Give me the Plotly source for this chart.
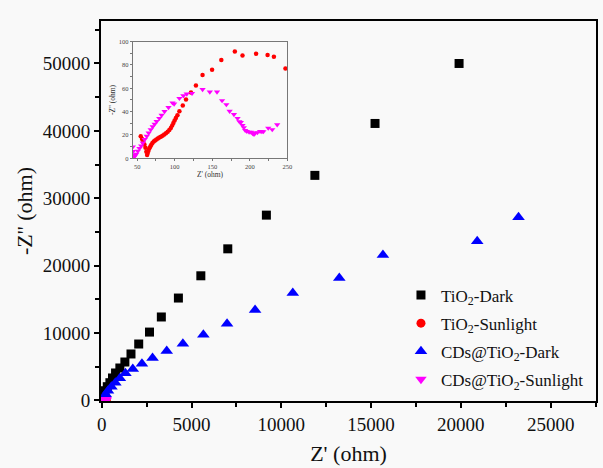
import plotly.graph_objects as go

# ---------------- data ----------------
# TiO2-Dark (main plot)
tio2_dark_x = [12, 35, 90, 180, 310, 455, 600, 770, 1010, 1290, 1630, 2060, 2660, 3320,
               4270, 5520, 7020, 9170, 11870, 15220, 19900]
tio2_dark_y = [250, 560, 960, 1450, 2050, 2640, 3340, 4080, 4820, 5710, 6900, 8380, 10150,
               12390, 15200, 18500, 22500, 27500, 33400, 41100, 50000]

# CDs@TiO2-Dark (main plot)
cds_dark_x = [50, 130, 220, 350, 540, 760, 1010, 1320, 1730, 2240, 2830, 3620, 4520, 5660,
              6980, 8540, 10640, 13230, 15660, 20910, 23210]
cds_dark_y = [150, 475, 920, 1450, 2050, 2640, 3290, 4040, 4670, 5460, 6310, 7340, 8430,
              9760, 11390, 13430, 15950, 18170, 21590, 23620, 27180]

# TiO2-Sunlight (inset + main)
tio2_sun_x = [54.7, 56.5, 58, 59.6, 61, 62.2, 63.2, 64, 65, 66.2, 67.5, 68.8, 70.3, 72, 73.8,
              75.6, 77.5, 79.5, 81.5, 83.7, 86, 88.3, 90.6, 92.8, 94.8, 96.6, 98.2, 99.8,
              101.5, 103.6, 106.2, 110.7, 115, 121.6, 128.2, 137, 149.7, 162, 180, 190.2,
              208.3, 223.6, 232, 247.4]
tio2_sun_y = [18.9, 16.5, 14, 11.9, 9, 5.5, 2.8, 4.5, 6.5, 8.5, 10.2, 11.6, 13, 14.3, 15.3,
              16.2, 17, 17.8, 18.5, 19.3, 20.3, 21.4, 22.8, 24.3, 26, 28, 30.2, 32.3,
              34.5, 36.9, 40.3, 45.2, 50.3, 56.4, 62.4, 71.4, 75.9, 84.2, 91.5, 88.1,
              89.5, 88.4, 87, 76.8]

# CDs@TiO2-Sunlight (inset + main)
cds_sun_x = [44.2, 44.6, 45.2, 46, 47.2, 48.7, 50.8, 53, 55.3, 57.4, 60, 62.7, 65.3, 68, 70.6,
             73.2, 75.9, 79.4, 82.5, 86.4, 91.7, 97, 99.2, 106.2, 111.5, 116, 123, 137,
             146.7, 156.3, 163, 168.7, 173.1, 178.8, 183.6, 186, 188, 190.2, 192, 193.8,
             196, 199, 201.7, 203.8, 205.5, 207, 210, 213.6, 216, 218, 224.5, 229.8, 236.4]
cds_sun_y = [9.8, 6, 3, 1.2, 2.2, 3.6, 6.2, 8.5, 10.7, 13.2, 16.1, 18.9, 21.7, 24.6, 27.1,
             29.3, 31.6, 34.2, 36.9, 40.1, 43.5, 47.5, 46.6, 51.4, 53.6, 55.1, 55.6, 59,
             56.8, 56.8, 49.4, 46, 40.3, 37.5, 34.2, 31.5, 30.8, 28.2, 26.3, 24,
             23.1, 22.5, 22.3, 21.2, 20.5, 21.7, 22, 23.1, 22.9, 22.9, 25.9, 24.6, 28.8]

names = ["TiO<sub>2</sub>-Dark", "TiO<sub>2</sub>-Sunlight",
         "CDs@TiO<sub>2</sub>-Dark", "CDs@TiO<sub>2</sub>-Sunlight"]

x_ticks = [0, 5000, 10000, 15000, 20000, 25000]
y_ticks = [0, 10000, 20000, 30000, 40000, 50000]
inset_x_ticks = [50, 100, 150, 200, 250]
inset_y_ticks = [0, 20, 40, 60, 80, 100]

FONT = "Liberation Serif"
BG = "#f9f9f9"

fig = go.Figure()

fig.add_trace(go.Scatter(x=tio2_dark_x, y=tio2_dark_y, mode="markers", name=names[0],
                         legendgroup="g1",
                         marker=dict(symbol="square", size=9, color="#000000")))
fig.add_trace(go.Scatter(x=tio2_sun_x, y=tio2_sun_y, mode="markers", name=names[1],
                         legendgroup="g2",
                         marker=dict(symbol="circle", size=9, color="#ff0000")))
fig.add_trace(go.Scatter(x=cds_dark_x, y=cds_dark_y, mode="markers", name=names[2],
                         legendgroup="g3",
                         marker=dict(symbol="triangle-up", size=11, color="#0000ff")))
fig.add_trace(go.Scatter(x=cds_sun_x, y=cds_sun_y, mode="markers", name=names[3],
                         legendgroup="g4",
                         marker=dict(symbol="triangle-down", size=10, color="#ff00ff")))

# inset traces
fig.add_trace(go.Scatter(x=tio2_sun_x, y=tio2_sun_y, mode="markers", showlegend=False,
                         xaxis="x2", yaxis="y2",
                         marker=dict(symbol="circle", size=4.5, color="#ff0000")))
fig.add_trace(go.Scatter(x=cds_sun_x, y=cds_sun_y, mode="markers", showlegend=False,
                         xaxis="x2", yaxis="y2",
                         marker=dict(symbol="triangle-down", size=5.5, color="#ff00ff")))

axis_common = dict(showgrid=False, zeroline=False, showline=True, linecolor="black",
                   linewidth=1.8, mirror=True, ticks="outside", ticklen=5, tickwidth=1.5,
                   tickcolor="black", tickfont=dict(family=FONT, size=19, color="#111"))

fig.update_layout(
    width=603, height=468,
    margin=dict(l=101, r=2, t=21, b=67),
    paper_bgcolor=BG, plot_bgcolor=BG,
    font=dict(family=FONT, color="#111"),
    xaxis=dict(**axis_common, range=[-40, 27525], tickvals=x_ticks, tickformat="d",
               minor=dict(dtick=2500, tick0=0, ticks="outside", ticklen=4, tickwidth=1.5,
                          tickcolor="black"),
               title=dict(text="Z' (ohm)", font=dict(family=FONT, size=22, color="#111"),
                          standoff=12)),
    yaxis=dict(**axis_common, range=[-75, 56300], tickvals=y_ticks, tickformat="d",
               minor=dict(dtick=5000, tick0=0, ticks="outside", ticklen=4, tickwidth=1.5,
                          tickcolor="black"),
               title=dict(text="-Z'' (ohm)", font=dict(family=FONT, size=22, color="#111"),
                          standoff=4)),
    xaxis2=dict(domain=[0.064, 0.3766], anchor="y2", range=[44, 250], tickvals=inset_x_ticks,
                showgrid=False, zeroline=False, showline=True, linecolor="#777",
                linewidth=1, mirror=True, ticks="outside", ticklen=2, tickwidth=0.8,
                tickcolor="#777", tickfont=dict(family=FONT, size=6.5, color="#444"),
                minor=dict(dtick=25, tick0=0, ticks="outside", ticklen=1.5, tickcolor="#777"),
                title=dict(text="Z' (ohm)", font=dict(family=FONT, size=7.5, color="#333"),
                           standoff=2)),
    yaxis2=dict(domain=[0.6387, 0.946], anchor="x2", range=[0, 100], tickvals=inset_y_ticks,
                showgrid=False, zeroline=False, showline=True, linecolor="#777",
                linewidth=1, mirror=True, ticks="outside", ticklen=2, tickwidth=0.8,
                tickcolor="#777", tickfont=dict(family=FONT, size=6.5, color="#444"),
                minor=dict(dtick=10, tick0=0, ticks="outside", ticklen=1.5, tickcolor="#777"),
                title=dict(text="-Z'' (ohm)", font=dict(family=FONT, size=7.5, color="#333"),
                           standoff=2)),
    legend=dict(x=0.606, y=0.325, xanchor="left", yanchor="top", bgcolor="rgba(0,0,0,0)",
                font=dict(family=FONT, size=17, color="#111"), tracegroupgap=3),
    showlegend=True,
)

fig.write_html("out.html")
